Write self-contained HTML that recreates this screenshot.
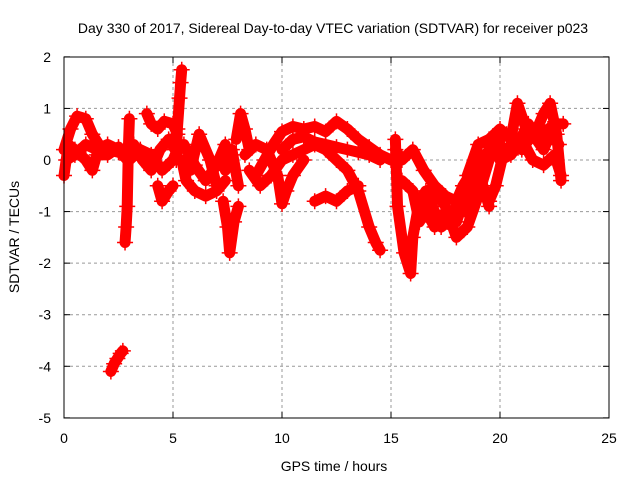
<!DOCTYPE html>
<html><head><meta charset="utf-8"><style>
body{margin:0;background:#fff}
svg{font-family:"Liberation Sans",sans-serif;font-size:14px}
</style></head><body>
<svg id="c" width="640" height="480">
<text x="333" y="33" text-anchor="middle">Day 330 of 2017, Sidereal Day-to-day VTEC variation (SDTVAR) for receiver p023</text>
<text x="334" y="471" text-anchor="middle">GPS time / hours</text>
<text transform="translate(19,237) rotate(-90)" text-anchor="middle">SDTVAR / TECUs</text>
<g id="grid"></g><g id="data"></g>
<rect x="64" y="57" width="545" height="361" fill="none" stroke="#000"/>
</svg>
<script>
const xTicks=[0,5,10,15,20,25];
const yTicks=[2,1,0,-1,-2,-3,-4,-5];
const tracks=[
{t:[0,0.3,0.6,1.0,1.3,1.6,2.0,2.5,2.8],v:[0.2,0.6,0.85,0.8,0.5,0.3,0.2,0.15,0.1]},
{t:[0,0.2,0.5,1.0,1.3,1.5,2.0,2.5],v:[-0.3,0.3,0.2,0.0,-0.2,0.1,0.1,0.25]},
{t:[0.1,0.5,1.0,1.5,2.0,2.5,2.9],v:[0.0,0.1,0.3,0.2,0.3,0.2,0.0]},
{t:[2.15,2.3,2.45,2.6,2.7],v:[-4.1,-3.95,-3.85,-3.75,-3.7]},
{t:[2.8,2.85,2.9,2.95,3.0],v:[-1.6,-1.3,-0.9,0.2,0.8]},
{t:[3.0,3.5,4.0,4.5,5.0,5.3],v:[0.0,0.2,0.1,-0.2,0.0,0.3]},
{t:[3.2,3.6,4.0,4.4,4.8,5.1],v:[0.3,0.0,-0.2,0.2,0.4,0.2]},
{t:[3.8,4.0,4.3,4.6,5.0,5.2],v:[0.9,0.7,0.6,0.75,0.7,0.5]},
{t:[4.3,4.5,4.8,5.0],v:[-0.5,-0.8,-0.6,-0.5]},
{t:[5.15,5.2,5.3,5.35,5.4],v:[0,0.6,1.2,1.5,1.75]},
{t:[5.4,5.6,6.0,6.5,7.0,7.4],v:[0.0,-0.4,-0.6,-0.7,-0.6,-0.4]},
{t:[5.8,6.2,6.7,7.0],v:[-0.2,0.5,0.0,-0.5]},
{t:[5.5,6.0,6.5,7.0,7.4],v:[0.3,-0.1,-0.4,-0.1,0.3]},
{t:[7.3,7.5,7.6,7.8,8.0],v:[-0.8,-1.3,-1.8,-1.2,-0.9]},
{t:[7.4,7.7,8.0],v:[-0.2,0.2,-0.5]},
{t:[7.9,8.1,8.3,8.5],v:[0.4,0.9,0.6,0.2]},
{t:[8.3,8.8,9.3,9.8,10.0,10.2,10.5,11],v:[0.1,0.3,0.2,-0.3,-0.85,-0.6,-0.3,0.0]},
{t:[8.8,9.2,9.6,10,10.5,11,11.5,12,12.5,13,13.5,14,14.5,15],v:[-0.3,0,0.3,0.55,0.65,0.6,0.65,0.55,0.75,0.6,0.4,0.25,0.1,0]},
{t:[10,10.5,11,11.5,12,12.5,13,13.5,14,14.5],v:[0.2,0.4,0.45,0.35,0.3,0.25,0.2,0.15,0.1,0]},
{t:[8.5,9,9.5,10,10.5,11,11.5,12,12.5,13,13.5,14,14.3,14.5],v:[-0.2,-0.5,-0.3,0,0.1,0.2,0.3,0.2,0,-0.2,-0.6,-1.3,-1.6,-1.75]},
{t:[11.5,12,12.5,13,13.5],v:[-0.8,-0.7,-0.8,-0.6,-0.5]},
{t:[15.2,15.3,15.6,15.9,16,16.3,16.6,17,17.3,17.6,18,18.4,18.8,19.3,19.8],v:[0.4,-0.9,-1.8,-2.2,-1.5,-0.8,-0.6,-1,-1.3,-1.2,-0.9,-1,-0.4,0.1,0.3]},
{t:[15.2,15.5,16,16.5,17,17.5,18,18.3,18.6,19,19.5,19.8],v:[0.2,0,0.2,-0.2,-0.5,-0.7,-0.8,-0.5,-0.3,-0.4,-0.8,-0.5]},
{t:[15.5,16,16.3,16.6,17,17.5,18,18.5,19,19.5,20],v:[-0.4,-0.6,-1.2,-1,-0.6,-0.9,-1.5,-1.3,-0.7,0,0.4]},
{t:[16.5,17,17.5,18,18.5,19,19.5],v:[-0.9,-1.3,-1.0,-1.2,-0.6,-0.2,-0.9]},
{t:[18.5,19,19.5,20,20.5,20.8,21.2,21.6,22,22.3,22.6,22.8],v:[-0.3,0.3,0.4,0.6,0.4,1.1,0.6,0.5,0.9,1.1,0.5,-0.4]},
{t:[19.8,20.2,20.6,21,21.5,22,22.5,22.9],v:[-0.5,0.2,0.3,0.2,0.5,0.2,0.7,0.7]},
{t:[20,20.5,21,21.5,22,22.5,22.8],v:[0,0.1,0.4,0,-0.1,0.1,-0.3]},
{t:[20.3,20.8,21.3,21.8,22.2,22.7],v:[0.5,0.3,0.7,0.4,0.6,0.3]}
];
const X=t=>64+t*(545/25), Y=v=>160-v*(361/7);
const NS="http://www.w3.org/2000/svg";
const grid=document.getElementById('grid'), data=document.getElementById('data'), svg=document.getElementById('c');
function mk(tag,a,p){const e=document.createElementNS(NS,tag);for(const k in a)e.setAttribute(k,a[k]);p.appendChild(e);return e;}
xTicks.forEach(t=>{const x=X(t);
 if(t>0&&t<25){const g=mk('line',{x1:x,x2:x,y1:57,y2:418,stroke:'#999','stroke-dasharray':'3,3'},grid);
 
 }
 mk('line',{x1:x,x2:x,y1:418,y2:412,stroke:'#000'},grid);mk('line',{x1:x,x2:x,y1:57,y2:63,stroke:'#000'},grid);
 const l=mk('text',{x:x,y:443,'text-anchor':'middle'},svg);l.textContent=t;
 
 });
yTicks.forEach(v=>{const y=Y(v);
 if(v<2&&v>-5){const g=mk('line',{x1:64,x2:609,y1:y,y2:y,stroke:'#999','stroke-dasharray':'3,3'},grid);
 
 }
 mk('line',{x1:64,x2:70,y1:y,y2:y,stroke:'#000'},grid);mk('line',{x1:603,x2:609,y1:y,y2:y,stroke:'#000'},grid);
 const l=mk('text',{x:51,y:y+5,'text-anchor':'end'},svg);l.textContent=v;
 
 });
tracks.forEach(tr=>{
 const pts=tr.t.map((t,i)=>X(t)+','+Y(tr.v[i])).join(' ');
 const pl=mk('polyline',{points:pts,fill:'none',stroke:'#f00','stroke-width':11,'stroke-linejoin':'round','stroke-linecap':'round'},data);
 
 
 tr.t.forEach((t,i)=>{const x=X(t),y=Y(tr.v[i]);
  const m=mk('path',{d:`M${x-8},${y}h16M${x},${y-8}v16`,stroke:'#f00','stroke-width':1.5},data);
  
  });
});
</script>
</body></html>
